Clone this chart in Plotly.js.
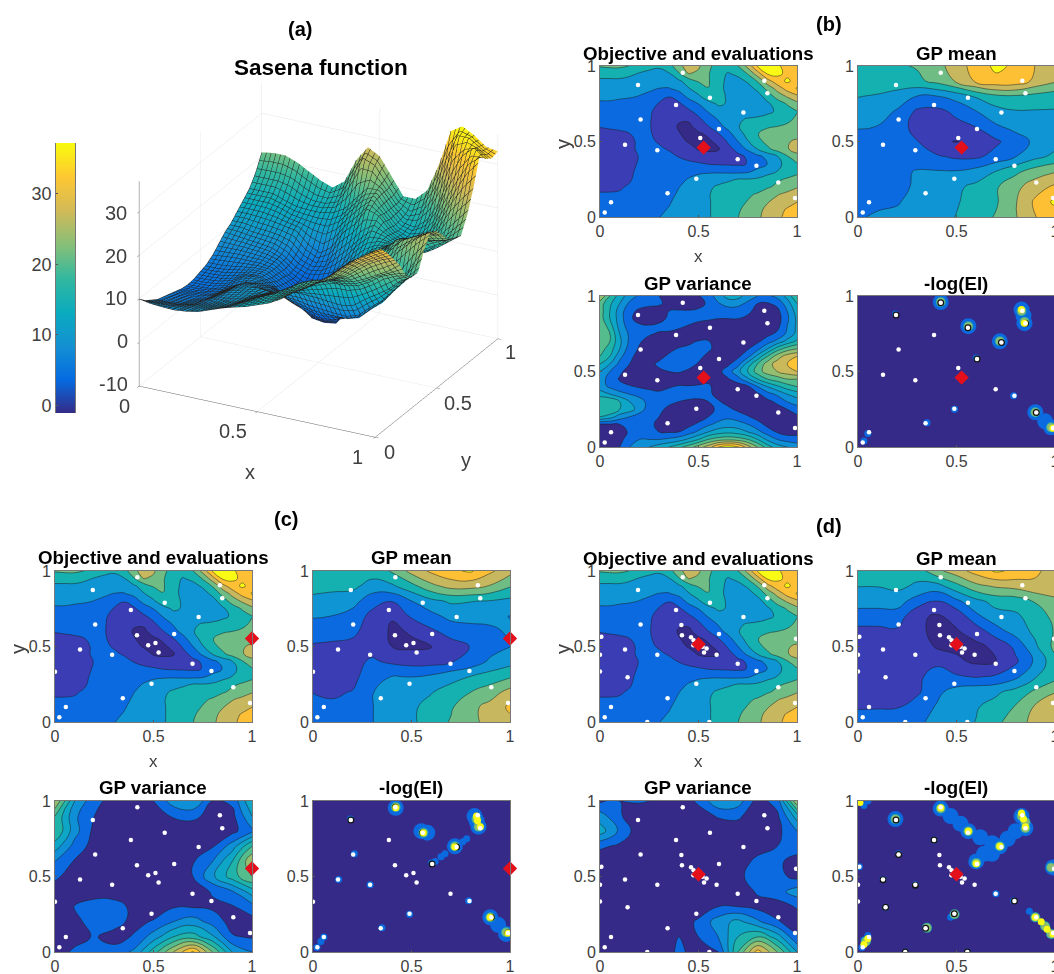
<!DOCTYPE html>
<html><head><meta charset="utf-8">
<script src="https://cdn.plot.ly/plotly-3.0.1.min.js"></script>
<style>html,body{margin:0;padding:0;background:#fff;overflow:hidden;width:1054px;height:974px}</style>
</head><body><div id="plot"></div>
<script>
const tickVals=[0,0.5,1];
const xFine=[0,.05,.1,.15,.2,.25,.3,.35,.4,.45,.5,.55,.6,.65,.7,.75,.8,.85,.9,.95,1];
const xCoarse=[0,.1,.2,.3,.4,.5,.6,.7,.8,.9,1];
const colorbarLevels=[-1,0,1,2,3,4,5,6,7,8,9,10,11,12,13,14,15,16,17,18,19,20,21,22,23,24,25,26,27,28,29,30,31,32,33,34,35,36,37];
const objective=[
[10,9.5,9.3,9.2,9.5,10,11,12,12.8,13.5,14.5,15.5,17,19,20.5,22.5,24.5,27,29.3,31,33],
[8.5,8.5,8.5,8.7,9,9.7,10.5,11.3,12.5,13.5,14.5,15.5,17,18.5,20,22,24,26.5,28.7,30.5,32],
[7.5,7.5,7.6,8,8.5,9.2,10,10.8,12,13.3,14.5,15.5,17,18.5,19.5,20.8,22.5,25,27,28.5,30],
[6.5,6.5,6.7,7.2,8,8.8,9.7,10.3,11.5,12.7,14,15.5,17.3,18.5,19.3,20,21,23,25,26.5,27.5],
[6,6,6,6.7,7.8,8.8,9.5,10,11,12,13.3,15,16.5,17.5,18,18.3,18.8,20,21.5,23,25],
[5.5,5.5,5.5,6,7.5,9,9.5,10,10.2,11.3,12,13,14,15,16,16,16.5,18,20,21,21.5],
[5,5,5.2,5.7,7.2,8.8,9.5,9.8,9.5,10,10.6,10.6,10.5,10.2,10,10.5,12.5,14.2,16,18.5,20],
[4.5,4.5,4.8,5.3,6.8,8.5,9,8.5,8,7.5,7,6.3,6,5.8,5.7,6.5,9,11.2,14.5,17.5,20],
[4.3,4.3,4.5,5.3,6.5,7.8,8,7.5,6.2,5,4,3.2,3.3,4,5,7,9.8,12.5,15.5,20,24],
[4.5,4.5,4.8,5.5,7,7.8,7,6,5,3.5,1.2,.8,1.2,4.5,8,12,16,19.5,22.5,25,27],
[5,5,5.2,5.8,6.8,7,6,4,3,1.2,.6,1,2.5,7,11,15.5,19,22,23.5,25,26],
[5.5,5.5,5.8,6.3,6.8,6.8,5.2,3.5,1.8,.8,1,2.2,6,9.5,13.5,17.5,20.5,21.5,22.5,23.5,24],
[6.5,6.8,7,7,7,6.6,5,3,1.3,.8,3,6.2,9.5,12.5,15.5,17.8,19.8,20.3,20.6,21,21.5],
[8,8,8,7.8,7.5,6.8,4.5,3,2,2.2,5.5,8.7,11.5,14,15.5,16,16.5,17.5,19,20,21],
[9.5,9.2,8.9,8.6,8.2,7,5,4,4.5,5.5,8,11.5,14,15,15,14.3,14,14.8,16.5,18.5,20.5],
[10.5,10.5,10,9.8,9.5,8.5,6,5,5.6,8.5,11.2,14,16.5,15.5,14,13,13,15,18,21,24],
[12,12,11.8,11.5,11,10.5,8,6.5,8.5,12.5,15,19,18,15,13.5,12.8,14,18,22.5,26,29],
[13.5,13.5,13.5,13,12,11.5,11,10.8,12.5,15.5,18.5,20.5,17.5,14.5,13.5,14,17,22,27,32,35.2],
[15,15,15,14,13.2,13,13,13.5,15,18,21,21,17.5,14.8,14.3,16.5,21,28,33,35.5,33.5],
[17.5,17.5,17.5,17,15.5,14.5,14.5,15.5,20,25.5,24.5,21,17.5,15.5,17,21,28,35.5,35.8,34,32.5],
[21,21.5,21.5,20.5,19,17.5,16.5,18.5,24,27.5,26,22,18,18,20.5,27,35.3,37,35.5,33.5,33]];
const meanB=[
[10.8,11.5,12,13,14.3,16,18.5,21,25,30,32],
[10.8,10.5,10.8,12.5,14,15.5,17.5,20,25,31,36],
[9,8.5,9.5,12,13.5,15,17,20,24,28,31],
[8,7.5,9.8,11.5,11.5,11.5,13,16,19.5,23,25],
[7,7,8.5,8.5,7,5.5,5.5,8,11,14.5,17],
[7,7,7.5,6.5,2.4,1.4,3,5.5,9,12,14],
[12,11,8,5,4,5,6.5,10.5,12.5,13,14.5],
[14,13.5,10.5,5.5,5,7.5,11,14,15.5,15.5,15.5],
[16,15.5,14,11,11,13,16.5,19.5,20,19,18],
[17.5,18,18.5,19.5,22,26,31,33.5,33,29,26],
[18,19,20,21,23.5,28,32,36,34,30,27]];
const meanC=[
[8,8,9,11,12.5,15,18,21,24,27,29],
[7.5,7,8,11,12.5,15,17.5,20,24,27,31],
[6.2,5.8,6.5,11,12,13.5,15.5,18,20.5,23,27],
[5,4.5,5,9,11.2,11,12,14,16,18,20],
[4.8,4.5,5,7,5.5,4.5,4.5,6,8,12,14],
[5.8,5.5,5.5,4.5,1.6,.8,1.2,4.5,6.5,9,11],
[8.5,8,7,5,.8,2,5.5,8,9,10.5,11.5],
[11.5,11,9,5,2,7,9.5,12.5,13,12,11],
[14.5,14,13,8,6.5,11,14.5,16.5,16,15.5,14.5],
[17.5,17,17,14,15,19,24,27,27,25,21],
[18.5,18.5,19.5,18,21,27,31,34,35.5,31,27]];
const meanD=[
[8,8.5,9.5,10.5,12,14,16,19.5,23,27,29],
[6,6,6,8.5,11.5,14,15.5,17.5,21,26,30],
[5,5,5,5.5,10,13,14.5,15,17.5,21.5,25],
[4.5,4.5,4.5,5,9,7,6,7,10,15.5,19],
[4,4,4,5,5,2.5,.8,1.6,5.5,12,19],
[4,4,5,5,1,.6,.6,2.5,7.5,15,22],
[5,5,5.5,2.5,.6,1.2,3.5,9,13,17,21],
[9,9,9,2.5,1,3,10,14,15,18,22],
[13,13,13,9,6,10,14.5,17.5,18,21,24],
[16,16,17,15,14,19,24,26,27,29,29],
[18.5,18,18.5,18,24,28,32,35.5,34,31,28]];
const varianceB=[
[.6,.5,1,2,2.5,3,3.5,4,4.7,5.5,6.5,7.5,9,9.6,9.2,7.5,6,4.5,3.5,3,2.5],
[.4,.3,.7,1.5,2,2,2,2.2,2.5,3.2,4,5,5.5,5.7,5.5,5,4,2.8,2,1.6,1.5],
[.4,.4,.7,1.1,1.5,1.4,1,.9,1,1.5,2.2,3,3.5,3.7,3.5,3,2.3,1.5,.9,.5,.6],
[.9,.9,1,1.2,1.3,1.2,.8,.4,.4,.7,1.2,1.8,2.3,2.5,2.4,2,1.4,.7,.3,.3,.4],
[4,3.5,2.5,2,1.5,1.2,1,.6,.3,.3,.5,1,1.5,1.8,1.5,1.1,.6,.3,.3,.5,.8],
[5,5,4,3.5,2.5,1.5,1.2,.8,.5,.3,.3,.7,1.2,1.2,.8,.4,.3,.3,.6,1,1.5],
[5,5,4,3,2.5,1.6,1.3,1.2,1,.8,.7,1,1.1,.7,.3,.3,.3,.7,1.2,2,2.5],
[3.5,3,2.4,2,1.6,1.3,1.2,1.4,1.5,1.5,1.5,1.2,.7,.3,.3,.3,.8,1.6,2.2,3,3.5],
[2.5,1.8,1.3,1.1,.9,.8,.7,.9,1.1,1.1,1.2,1.2,.5,.3,.4,.8,2,3,3.8,4.5,5],
[2.5,1.6,.9,.5,.3,.3,.3,.4,.4,.3,.3,.7,.9,.9,1.6,2.8,4,5,5.5,6,6],
[3,2,1.2,.6,.4,.5,.8,1,1.1,.8,.4,.3,.7,1.5,2.7,4,5.5,6.5,7,7.5,8],
[4,3,1.7,1,.5,.7,1.2,1.5,1.6,1.4,.9,.4,.3,.8,1.6,3.4,5,6.5,7.5,8,8.5],
[5,4,2.3,1.2,.7,.4,.7,1.2,1.5,1.6,1.3,.7,.3,.5,.8,1.7,3.3,5,6.5,7.5,8],
[5.5,4.5,3,1.5,.9,.5,.4,.7,1.1,1.3,1.4,1.2,.6,.3,.5,.9,1.7,3,4.5,5.5,6],
[6,5,3.2,1.8,1.1,.7,.5,.4,.4,.7,1.05,1.05,.7,.4,.4,.5,.8,1.5,2.3,3.3,4.2],
[6,5,3,1.8,1.4,1.1,.9,.8,.6,.5,.4,.3,.3,.3,.4,.4,.5,.7,1.2,2.2,3.3],
[6,4.5,2.6,1.5,1.2,1.1,1.3,1.4,1.2,.9,.7,.6,.5,.5,.5,.4,.3,.4,.7,2,3.2],
[5.5,4,2.5,1.2,.6,.4,.6,1.2,1.4,1.5,1.2,1.1,1,1,1,.8,.4,.3,.5,1.8,3.2],
[5.5,4,2.5,1.3,.8,.5,.7,1,1.1,1.1,1.2,1.3,1.5,1.5,1.5,1.2,.7,.4,.7,2,3.5],
[5.5,4.2,3,1.8,1.4,1.3,1.1,.8,.4,.3,.6,1.2,1.9,2.4,2.3,1.8,1,.9,1.3,2.5,4],
[7,5,3.5,2.5,1.8,1.3,1,.8,.5,.6,.9,1.5,2.5,3.4,3.4,2.5,2,1.8,2.3,3.3,5]];
const varianceC=[
[.5,1.2,1.5,1.4,2.2,4.5,7,9.2,6,3,2],
[.4,.6,1.1,.6,1.1,2.5,4,4.5,3.2,1.1,.9],
[.3,.8,1.3,1.4,.7,1.1,2,2.5,1.6,.6,.6],
[.3,1.05,1.5,1.5,.7,.4,.9,.9,.8,.9,1.6],
[.5,.3,.5,.4,.3,.3,.3,.5,1.1,1.9,3.5],
[1.2,.5,.3,.3,.3,.3,.3,1,2.8,4.5,6],
[2,.9,.3,.3,.3,.3,.3,.9,2,4,7],
[3.5,1.6,.6,.3,.3,.3,.3,.3,.9,2.5,5],
[5,2.4,.7,.3,.3,.3,.4,.5,.3,.7,1.8],
[5,2.2,1,.3,.3,.4,1.1,1.2,.7,.7,3],
[7,3,1.3,.6,.3,1,2.5,3,1,1.2,4]];
const varianceD=[
[.3,.3,.3,.3,1.2,.6,.9,5,8.5,6,3],
[.3,.3,.3,.3,1,1,2,4,5,3.5,1.1],
[.3,.3,.3,.3,.3,1.2,2.5,3.3,2.2,1.1,.5],
[.3,.3,.3,.3,.3,.3,1,1,.7,.5,1.1],
[.3,.3,.3,.3,.3,.3,.3,.5,1.1,1.6,2.5],
[.3,.3,.3,.3,.3,.3,.3,.9,1.2,1.3,.7],
[.3,.3,.3,.3,.3,.3,.3,.4,1.3,1.2,.6],
[1.2,.8,.3,.3,.3,.3,.3,.3,.5,1,1.5],
[3.5,1.8,.4,.3,.3,.3,.3,.4,.3,.7,2],
[2.5,1.1,.4,.4,.3,.5,1.1,1.2,.3,.8,3.5],
[.8,1,1.1,.9,.3,1.2,2.8,2.5,.6,1.4,7]];
const evalsBX=[.42,.193,.834,.85,.558,.386,.728,.206,.604,.509,.127,.291,.699,.794,.489,.905,.343,.99,.056,.024];
const evalsBY=[.956,.874,.903,.819,.79,.741,.692,.646,.582,.524,.478,.442,.383,.339,.254,.228,.157,.126,.097,.029];
const evalsCX=[.418,.192,.837,.849,.557,.385,.729,.204,.605,.416,.51,.473,.526,.127,.29,.698,.794,0,.49,.905,.344,.99,.055,.022];
const evalsCY=[.958,.874,.905,.819,.79,.741,.695,.646,.582,.575,.524,.509,.46,.48,.445,.385,.338,.332,.254,.23,.157,.126,.1,.031];
const evalsDX=[.42,.193,.834,.85,.558,.386,.728,.206,.604,.413,.416,.462,.475,.474,.521,.541,.528,.592,.127,.291,.699,.794,.14,.489,.905,.343,.99,.056,.024,.007,0,0,.24,.555,.995];
const evalsDY=[.958,.874,.905,.819,.79,.741,.695,.646,.582,.642,.575,.562,.542,.509,.498,.487,.46,.445,.48,.445,.385,.338,.296,.254,.23,.157,.126,.1,.031,.564,.445,.334,0,0,.551];
const nextB=[[.526],[.46]], nextC=[[1],[.553]], nextD=[[.5],[.515]];
const eiB={wide:[[.42,.96],[.56,.8],[.72,.7],[.83,.91],[.84,.87],[.845,.82],[.9,.23],[.95,.17],[.98,.13]],
 thin:[[.19,.88],[.6,.59],[.49,.25],[.35,.16],[.79,.34],[.03,.04],[.05,.09]],
 mid:[[.42,.96],[.56,.8],[.72,.7],[.83,.9],[.845,.83],[.9,.23],[.98,.13]],
 core:[[.83,.91],[.845,.82],[.99,.125]],
 ring:[[.42,.956],[.193,.874],[.558,.79],[.728,.692],[.85,.819],[.604,.582],[.905,.228]]};
const eiC={wide:[[.42,.955],[.55,.8],[.58,.79],[.72,.7],[.82,.9],[.83,.87],[.84,.83],[.9,.23],[.94,.18],[.98,.12]],
 thin:[[.19,.88],[.62,.6],[.65,.63],[.67,.65],[.76,.73],[.78,.75],[.6,.59],[.21,.65],[.49,.25],[.35,.16],[.29,.445],[.13,.48],[.79,.34],[.02,.03],[.04,.07],[.055,.1]],
 mid:[[.42,.96],[.56,.79],[.72,.7],[.83,.88],[.84,.83],[.9,.23],[.98,.13]],
 core:[[.42,.955],[.56,.79],[.72,.695],[.83,.9],[.835,.87],[.85,.83],[.9,.23],[.99,.125]],
 ring:[[.418,.958],[.192,.874],[.557,.79],[.729,.695],[.604,.582],[.905,.23],[.99,.126]]};
const eiD={wide:[[.42,.95],[.47,.9],[.52,.85],[.56,.8],[.62,.76],[.68,.72],[.72,.7],[.76,.75],[.8,.8],[.83,.9],[.85,.82],[.6,.6],[.64,.65],[.68,.65],[.19,.88],[.99,.56]],
 thin:[[0,1],[.05,1],[.03,.97],[.206,.65],[.127,.48],[.291,.445],[.489,.25],[.47,.23],[.343,.157],[.14,.296],[.24,0],[.555,0],[.02,.03],[.03,.08],[.05,.11],[.386,.741],[.7,.385],[.79,.34],[.87,.27],[.9,.22],[.95,.17],[.99,.12],[.007,.564]],
 mid:[[.42,.95],[.56,.8],[.72,.7],[.83,.9],[.85,.82],[.85,.86],[.6,.59],[.19,.88],[.9,.23],[.95,.17],[.98,.12],[.49,.25],[.35,.16],[.98,.56],[.04,.07]],
 core:[[.42,.955],[.56,.8],[.72,.7],[.83,.92],[.84,.88],[.85,.83],[.6,.585],[.9,.23],[.93,.2],[.96,.15],[.99,.12],[.03,.05],[.05,.09],[.01,.99]],
 ring:[[.193,.874],[.206,.646],[.127,.478],[.291,.442],[.489,.254],[.343,.157],[.14,.296],[.386,.741],[.794,.338],[.24,0],[.555,0]]};

const W=1060,H=974;
const objBands=['#352a87','#3a3db4','#0b6ae0','#0f95d3','#15b0b0','#6fbd84','#c7b85f','#fdc035','#f9fb15'];
const varBands=['#352a87','#0b6ae0','#0f8fd6','#0ea6c6','#1fb3aa','#55bc8e','#95bf70','#c9b95b','#fcc335','#f9fb15'];
const parula=[[0,'#352a87'],[.125,'#056be1'],[.25,'#1490d2'],[.375,'#0aabbf'],[.5,'#33b89e'],[.625,'#87bf78'],[.75,'#d1ba58'],[.875,'#fdc733'],[1,'#f9fb0e']];
function stepScale(c){const s=[];c.forEach((col,i)=>{s.push([i/c.length,col]);s.push([(i+1)/c.length,col]);});return s;}
const objLv={start:1.6,size:4.75,n:8,bands:objBands}, varLv={start:1,size:1,n:9,bands:varBands};
const font='"Liberation Sans",Arial,sans-serif', tc='#404040';
const traces=[],layout={width:W,height:H,margin:{l:0,r:0,t:0,b:0},paper_bgcolor:'#fff',plot_bgcolor:'#352a87',showlegend:false,font:{family:font,color:tc},annotations:[]};
let axN=0;
function addAxes(x0,y0,x1,y1,xo,yo){axN++;const sx=axN===1?'':axN;
 layout['xaxis'+sx]=Object.assign({domain:[x0/W,x1/W],anchor:'y'+sx,range:[0,1],tickvals:tickVals,ticktext:['0','0.5','1'],ticks:'inside',ticklen:2,tickcolor:'#555',showgrid:false,zeroline:false,showline:true,linecolor:'#777',linewidth:.7,mirror:true,layer:'above traces',tickfont:{size:16,color:tc,family:font}},xo||{});
 layout['yaxis'+sx]=Object.assign({domain:[1-y1/H,1-y0/H],anchor:'x'+sx,range:[0,1],tickvals:tickVals,ticktext:['0','0.5','1'],ticks:'inside',ticklen:2,tickcolor:'#555',showgrid:false,zeroline:false,showline:true,linecolor:'#777',linewidth:.7,mirror:true,layer:'above traces',tickfont:{size:16,color:tc,family:font}},yo||{});
 return ['x'+sx,'y'+sx];}
function note(text,x,y,size,bold,extra){layout.annotations.push(Object.assign({text:bold?'<b>'+text+'</b>':text,x:x/W,y:1-y/H,xref:'paper',yref:'paper',showarrow:false,xanchor:'center',yanchor:'middle',font:{size:size,family:font,color:bold?'#000':tc}},extra||{}));}
function contourPanel(z,xs,lv,a){traces.push({type:'contour',x:xs,y:xs,z:z,xaxis:a[0],yaxis:a[1],autocontour:false,showscale:false,hoverinfo:'skip',zmin:lv.start-lv.size,zmax:lv.start+lv.n*lv.size,colorscale:stepScale(lv.bands),contours:{start:lv.start,end:lv.start+(lv.n-1)*lv.size,size:lv.size,coloring:'fill',showlines:true},line:{color:'#1c1c1c',width:.5,smoothing:1.3}});}
function dots(xs,ys,a){traces.push({type:'scatter',mode:'markers',x:xs,y:ys,xaxis:a[0],yaxis:a[1],cliponaxis:true,hoverinfo:'skip',marker:{color:'#fff',size:4.5,line:{width:0}}});}
function next(n,a){traces.push({type:'scatter',mode:'markers',x:n[0],y:n[1],xaxis:a[0],yaxis:a[1],cliponaxis:false,hoverinfo:'skip',marker:{color:'#e3101c',symbol:'diamond',size:11,line:{width:0}}});}
function blob(list,a,size,color){traces.push({type:'scatter',mode:'markers',x:list.map(p=>p[0]),y:list.map(p=>p[1]),xaxis:a[0],yaxis:a[1],hoverinfo:'skip',marker:{color:color,size:size,line:{width:0}}});}
function eiPanel(e,a){blob(e.wide,a,16,'#0b6ae0');blob(e.thin,a,7,'#0b6ae0');blob(e.mid,a,10,'#2eaaa8');blob(e.mid,a,8,'#8cbd70');blob(e.ring,a,7,'#141414');blob(e.core,a,7,'#f9fb15');}
function group(ox,oy1,oy2,ox2,ex,ey,n,obj,mean,vari,ei,xlY,titleY1,titleY2){
 const p=197,h=151;
 let a=addAxes(ox,oy1,ox+p,oy1+h);contourPanel(obj,xFine,objLv,a);dots(ex,ey,a);next(n,a);
 let b=addAxes(ox2,oy1,ox2+p,oy1+h);contourPanel(mean,xCoarse,objLv,b);dots(ex,ey,b);next(n,b);
 let c=addAxes(ox,oy2,ox+p,oy2+h);contourPanel(vari,vari===varianceB?xFine:xCoarse,varLv,c);dots(ex,ey,c);next(n,c);
 let d=addAxes(ox2,oy2,ox2+p,oy2+h);eiPanel(ei,d);dots(ex,ey,d);next(n,d);
 note('Objective and evaluations',ox+98,titleY1,18.7,true);note('GP mean',ox2+98,titleY1,18.7,true);
 note('GP variance',ox+98,titleY2,18.7,true);note('-log(EI)',ox2+98,titleY2,18.7,true);
 note('x',ox+98,xlY,17,false);note('y',ox-37,oy1+78,20,false,{textangle:-90});
}
(function(){const s=addAxes(56,143,75,413,{visible:false,range:[0,1]},{range:[-1.1,37.2],tickvals:[0,10,20,30],ticktext:['0','10','20','30'],mirror:true,ticks:'inside',ticklen:2,tickfont:{size:18,color:tc,family:font},linecolor:'#777'});
 traces.push({type:'heatmap',x:[0,1],y:colorbarLevels,z:colorbarLevels.map(v=>[v,v]),xaxis:s[0],yaxis:s[1],zmin:-1.1,zmax:37.2,colorscale:parula,zsmooth:'best',showscale:false,hoverinfo:'skip'});})();
const sceneAxis={showticklabels:false,title:{text:''},gridcolor:'#e6e6e6',showbackground:false,showline:true,linecolor:'#666',zeroline:false,ticks:'outside',ticklen:4,tickcolor:'#666',showspikes:false};
layout.scene={domain:{x:[80/W,557/W],y:[1-490/H,1-30/H]},aspectmode:'manual',aspectratio:{x:1.157,y:1.157,z:.98},
 camera:{projection:{type:'orthographic'},eye:{x:.716,y:-1.378,z:.713},up:{x:0,y:0,z:1},center:{x:0,y:0,z:0}},
 bgcolor:'rgba(0,0,0,0)',
 xaxis:Object.assign({range:[0,1],tickvals:tickVals},sceneAxis),
 yaxis:Object.assign({range:[0,1],tickvals:tickVals},sceneAxis),
 zaxis:Object.assign({range:[-10,37],tickvals:[-10,0,10,20,30]},sceneAxis)};
traces.push({type:'surface',x:xFine,y:xFine,z:objective,cmin:-1.1,cmax:37.2,colorscale:parula,showscale:false,hoverinfo:'skip',lighting:{ambient:1,diffuse:0,specular:0,roughness:1,fresnel:0},
 contours:{x:{show:true,start:0,end:1,size:.02,color:'#222',width:1},y:{show:true,start:0,end:1,size:.02,color:'#222',width:1},z:{show:false}}});
group(600,66,296,858,evalsBX,evalsBY,nextB,objective,meanB,varianceB,eiB,256,53,283);
group(55,571,801,313,evalsCX,evalsCY,nextC,objective,meanC,varianceC,eiC,761,557,787);
group(600,571,801,858,evalsDX,evalsDY,nextD,objective,meanD,varianceD,eiD,761,558,787);
note('(a)',300,29,20,true);note('(b)',829,24,20,true);note('(c)',286,519,20,true);note('(d)',829,526,20,true);
note('Sasena function',321,67,22.5,true);
[['30',116,213],['20',116,256],['10',116,298],['0',122,341],['-10',113,384],['0',124,406],['0.5',233,431],['1',357,457],['0',389,452],['0.5',458,403],['1',510,352]].forEach(t=>note(t[0],t[1],t[2],20,false));
note('x',250,472,20,false);note('y',466,460,20,false);
Plotly.newPlot('plot',traces,layout,{displayModeBar:false});
</script></body></html>
